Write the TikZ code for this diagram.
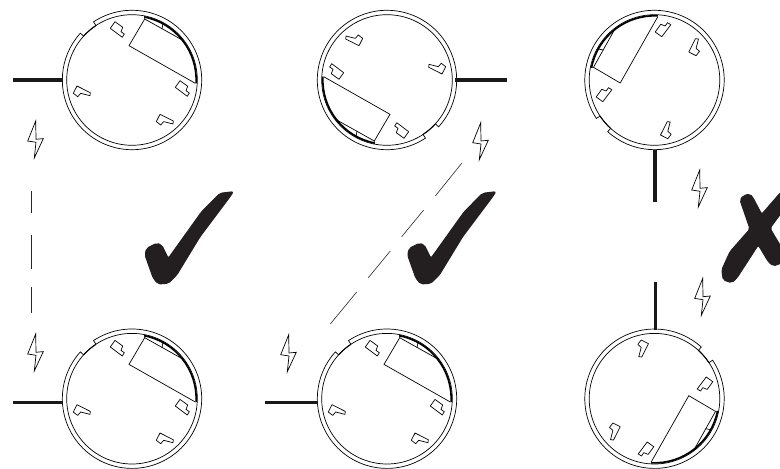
\documentclass[tikz,border=0pt]{standalone}
\usepackage{tikz}
\definecolor{markblack}{RGB}{35, 31, 32}
\newcommand{\tabup}[2]{\draw[thinline, line join=round, shift={(#1,#2)}] (0,0) -- (-4.7,-6.6) -- (7.3,-15.6) -- (9.3,-12.3) -- (6,-10) -- (7.7,-5.6) -- cycle;}
\newcommand{\tabside}[2]{\draw[thinline, line join=round, shift={(#1,#2)}] (0,0) -- (-3.7,-7.3) -- (0.7,-10.7) -- (3.7,-7.3) -- (13,-9.7) -- (13.3,-6.7) -- cycle;}
\tikzset{
    thinline/.style={line width=0.7pt, black},
    wireline/.style={line width=3.3pt, black!90},
    dashline/.style={line width=0.6pt, black!85},
    markfill/.style={fill=markblack, draw=markblack, line width=1pt, rounded corners=2pt},
    pics/sensor/.style={code={
        % rings
        \draw[thinline] (0,0) circle (65.3);
        \draw[thinline] (123.5:65.3) -- (123.5:69.7) arc[start angle=123.5, end angle=-222.2, radius=69.7] -- (137.8:65.3);
        \draw[line width=1pt] (123.5:65.3) arc[start angle=123.5, end angle=137.8, radius=65.3];
        % battery
        \draw[thinline] (12.7,64) -- (12.7,61) -- (-3,34.3) -- (63.3,-3.3);
        \draw[thinline] (12.7,61) -- (52,39);
        \draw[thinline] (31,56.7) -- (30,51);
        \draw[line width=1.7pt] (79:64.2) arc[start angle=79, end angle=-3, radius=64.2];
        % clips
        \tabup{-17}{58.3}
        \tabup{48}{-0.7}
        \tabside{-55}{-6}
        \tabside{28}{-34.3}
    }},
    pics/bolt/.style={code={
        \draw[thinline, line join=miter] (0.7,18.3) -- (-7.3,-1.7) -- (1,-3) -- (-0.7,-18.7) -- (8.3,0.7) -- (1,0) -- cycle;
    }},
    pics/tick/.style={code={
        \path[markfill] (233.3,277.3) -- (220,275.7) -- (201.7,257.3) -- (168.3,210.7) -- (161.7,224) -- (156.7,225.7) -- (146.7,220.7) -- (145,214) -- (153.3,190.7) -- (158.3,185) -- (168.3,185.7) -- (176.7,194) -- (200,232.3) -- (230,272.3) -- cycle;
    }},
}

\begin{document}
\begin{tikzpicture}[x=1pt, y=1pt]
    \useasboundingbox (0,0) rectangle (780,469);

    % Sensors
    \foreach \cx/\cy/\turn in {132/389/0, 387/389/180, 654.5/389/90, 132/70.3/0, 387/70.3/0, 654.5/70.3/-90}
        \pic[rotate=\turn] at (\cx,\cy) {sensor};

    % Wires
    \draw[wireline] (12.7,389) -- (63,389);
    \draw[wireline] (455,389) -- (506.7,389);
    \draw[wireline] (655,319) -- (655,267.3);
    \draw[wireline] (655.3,187.3) -- (655.3,138.5);
    \draw[wireline] (12.7,66.7) -- (63,66.7);
    \draw[wireline] (265,66.7) -- (318,66.7);

    % Signals
    \foreach \bx/\by in {35/329.7, 35/116.7, 480/328, 288/116, 699/280.7, 702/172.3}
        \pic at (\bx,\by) {bolt};

    % Links
    \foreach \ax/\ay/\bx/\by in {31.3/278/31.3/256, 31.3/234/31.3/199.7, 31.3/181.7/31.3/156.3,
        461.7/305.7/435.3/273, 423.7/259/401.7/232.3, 390.3/218/368.3/191.3, 356.7/177/330.3/145}
        \draw[dashline] (\ax,\ay) -- (\bx,\by);

    % Verdicts
    \pic at (0,0) {tick};
    \pic at (262.6,0) {tick};
    \path[markfill] (740,269) -- (743.3,273.3) -- (750,275) -- (753.3,270.7) -- (761.7,254.7) -- (781,277) -- (781,255.7) -- (770,240.7) -- (781,222.3) -- (781,205.7) -- (773.3,203) -- (768.3,207.3) -- (758.3,224) -- (736.7,190.7) -- (731.7,186.3) -- (723.3,189) -- (721.7,199) -- (730,217.3) -- (750,240) -- cycle;
\end{tikzpicture}
\end{document}
